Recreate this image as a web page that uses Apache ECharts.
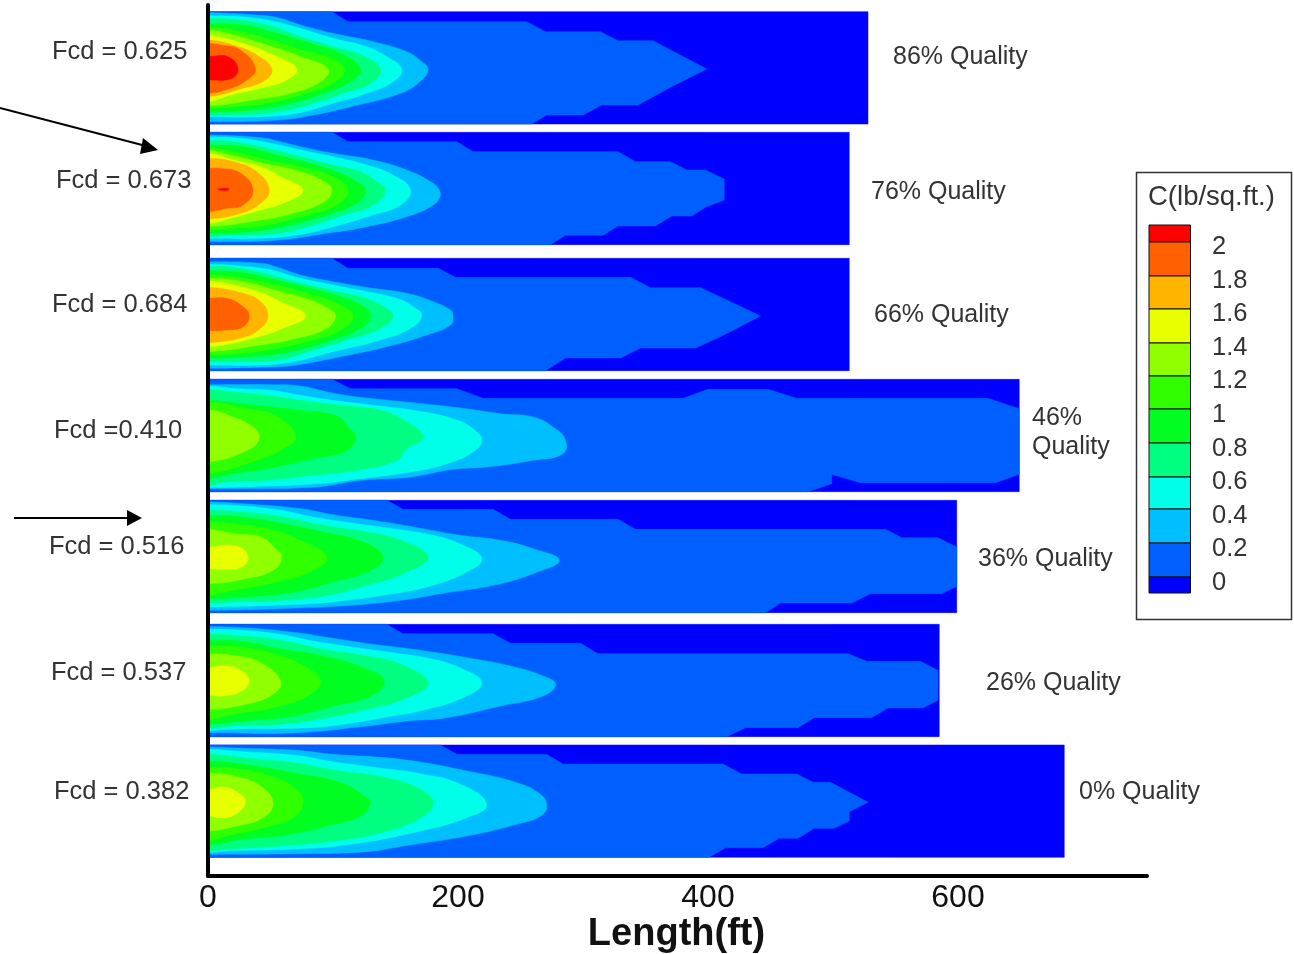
<!DOCTYPE html>
<html><head><meta charset="utf-8">
<style>html,body{margin:0;padding:0;background:#fff}#c{width:1294px;height:954px}</style>
<script src="https://cdn.jsdelivr.net/npm/echarts@6/dist/echarts.min.js"></script>
</head><body><div id="c"></div>
<script>
// Band colours, lowest to highest
const bandColors = ['#0000ff','#0060ff','#00bfff','#00ffe8','#00ff80','#00ff20','#30ff00','#90ff00','#e8ff00','#ffb400','#ff6000','#ff0000'];
const legendLabels = ['2','1.8','1.6','1.4','1.2','1','0.8','0.6','0.4','0.2','0'];
const xTicks = [0,200,400,600];
const fcdLabels = ['Fcd = 0.625','Fcd = 0.673','Fcd = 0.684','Fcd =0.410','Fcd = 0.516','Fcd = 0.537','Fcd = 0.382'];
const qualityLabels = ['86% Quality','76% Quality','66% Quality','46%\nQuality','36% Quality','26% Quality','0% Quality'];
// Fracture half-length (ft) of each panel, and panel position across the plot (y units)
const panelLengths = [528,513,513,649,599,585,685];
const panelOffsets = [20,382,760,1123,1486,1858,2220];
const panelHeight = 337;
// Contours: each is a list of [length ft, position across the panel], from lowest band up
const panel1 = [
 [[0,0],[99,0],[112,30],[255,30],[270,60],[314,60],[328,87],[356,87],[399,172],[372,223],[344,280],[315,280],[300,310],[271,310],[259,337],[0,337]],
 [[0,3],[42,11],[58,20],[74,40],[100,65],[132,90],[159,120],[171,150],[176,172],[171,205],[154,245],[114,285],[84,310],[56,325],[0,330]],
 [[0,13],[26,15],[50,27],[74,50],[100,80],[127,105],[143,135],[155,172],[148,210],[127,245],[100,275],[71,305],[42,315],[0,315]],
 [[0,21],[20,23],[47,40],[74,75],[100,105],[122,130],[138,172],[130,215],[108,245],[84,275],[55,300],[20,310],[0,310]],
 [[0,37],[28,40],[55,65],[82,95],[106,125],[122,172],[114,210],[92,245],[66,275],[34,295],[0,300]],
 [[0,47],[20,55],[47,80],[74,115],[95,135],[109,172],[100,215],[79,245],[47,275],[20,285],[0,290]],
 [[0,55],[20,70],[47,100],[74,135],[96,172],[90,210],[66,245],[36,265],[0,283]],
 [[0,70],[10,77],[36,105],[58,140],[71,172],[63,205],[42,230],[18,250],[0,270]],
 [[0,85],[20,100],[39,130],[51,172],[46,205],[28,230],[0,255]],
 [[0,95],[10,100],[26,115],[38,172],[31,205],[18,230],[0,245]],
 [[0,135],[16,135],[24,170],[19,200],[0,205]]
];
const panel2 = [
 [[0,0],[99,0],[112,28],[199,28],[212,58],[328,58],[342,88],[370,88],[383,113],[398,113],[413,140],[413,203],[398,225],[387,251],[371,251],[358,281],[328,281],[316,309],[286,309],[274,337],[0,337]],
 [[0,8],[42,16],[58,28],[74,43],[100,63],[132,83],[159,113],[178,148],[185,173],[185,198],[178,223],[159,253],[127,283],[95,303],[56,323],[0,328]],
 [[0,13],[26,18],[50,33],[74,53],[100,73],[127,98],[148,128],[162,173],[154,218],[132,248],[100,283],[71,308],[42,318],[0,318]],
 [[0,26],[20,28],[47,48],[74,73],[100,98],[122,118],[135,148],[142,173],[132,218],[108,248],[84,278],[55,303],[20,308],[0,313]],
 [[0,38],[28,43],[55,68],[82,93],[106,123],[119,148],[126,173],[119,213],[95,248],[66,278],[34,298],[0,303]],
 [[0,48],[20,58],[47,83],[74,103],[100,133],[112,173],[103,218],[79,248],[47,278],[20,288],[0,293]],
 [[0,53],[18,68],[47,95],[74,118],[93,148],[99,173],[93,208],[68,243],[42,263],[0,283]],
 [[0,63],[20,83],[42,103],[58,133],[76,173],[63,208],[42,233],[18,258],[0,273]],
 [[0,78],[20,88],[39,118],[49,173],[42,213],[26,243],[0,260]],
 [[0,108],[10,108],[26,123],[36,173],[28,218],[15,228],[0,238]],
 [[8,171],[13,168],[17,171],[13,175]]
];
const panel3 = [
 [[0,0],[99,0],[112,30],[184,30],[198,57],[338,57],[354,88],[394,88],[410,116],[442,173],[411,233],[390,269],[346,269],[330,299],[286,299],[270,337],[0,337]],
 [[0,10],[42,15],[58,30],[74,50],[100,70],[132,90],[159,105],[180,130],[194,155],[196,172],[194,200],[175,230],[143,265],[106,295],[71,320],[56,325],[0,330]],
 [[0,18],[26,23],[50,35],[74,60],[100,80],[127,100],[151,120],[164,145],[171,172],[162,210],[138,245],[100,280],[68,310],[42,320],[0,320]],
 [[0,25],[20,27],[47,47],[74,75],[100,97],[122,115],[138,140],[148,172],[138,210],[111,245],[84,275],[55,305],[20,310],[0,310]],
 [[0,37],[28,43],[55,65],[82,90],[106,115],[122,140],[130,172],[122,210],[95,250],[66,280],[34,295],[0,300]],
 [[0,50],[28,60],[55,80],[79,105],[103,135],[116,172],[106,215],[82,247],[47,275],[20,287],[0,290]],
 [[0,60],[28,70],[58,100],[82,125],[96,150],[102,172],[95,210],[71,240],[42,260],[0,280]],
 [[0,67],[26,85],[44,105],[58,130],[78,172],[60,210],[36,240],[12,260],[0,265]],
 [[0,87],[28,105],[42,130],[48,172],[42,210],[28,237],[0,253]],
 [[0,120],[15,120],[28,145],[33,172],[28,205],[15,215],[0,217]]
];
const panel4 = [
 [[0,0],[99,0],[114,28],[199,28],[220,57],[380,57],[400,30],[448,30],[471,57],[624,57],[649,88],[649,285],[630,310],[522,310],[499,285],[499,313],[480,337],[0,337]],
 [[0,16],[48,16],[74,20],[98,40],[127,56],[164,70],[202,86],[234,103],[260,113],[276,143],[286,183],[284,223],[260,243],[223,263],[196,270],[162,293],[122,303],[87,323],[24,328],[0,328]],
 [[0,20],[23,28],[50,33],[74,48],[100,63],[132,78],[164,93],[196,118],[212,148],[219,183],[212,218],[191,253],[162,278],[122,298],[87,313],[23,323],[0,325]],
 [[0,30],[20,38],[47,48],[74,63],[106,78],[138,93],[159,128],[172,173],[159,208],[151,243],[119,273],[84,288],[47,303],[15,308],[0,318]],
 [[0,63],[28,73],[74,93],[103,110],[112,143],[118,173],[111,213],[84,238],[47,268],[20,283],[0,298]],
 [[0,68],[30,88],[55,110],[70,173],[60,208],[39,243],[0,283]],
 [[0,91],[20,113],[36,143],[41,173],[34,208],[0,248]]
];
const panel5 = [
 [[0,0],[143,0],[156,27],[228,27],[242,57],[328,57],[342,87],[542,87],[555,112],[584,112],[599,140],[599,258],[587,280],[530,280],[515,308],[458,308],[446,337],[0,337]],
 [[0,5],[28,10],[74,25],[100,43],[132,60],[164,80],[202,105],[234,120],[260,145],[281,180],[260,220],[228,255],[186,280],[154,300],[114,315],[56,325],[0,330]],
 [[0,13],[28,17],[58,30],[84,50],[119,70],[148,85],[180,105],[204,135],[219,175],[207,215],[175,260],[140,285],[111,300],[82,310],[0,320]],
 [[0,30],[28,35],[60,50],[92,75],[127,95],[154,120],[176,170],[159,215],[127,255],[95,285],[58,300],[20,305],[0,310]],
 [[0,45],[28,50],[60,70],[92,95],[124,125],[140,170],[130,210],[100,245],[68,275],[28,290],[0,295]],
 [[0,65],[20,70],[47,85],[74,120],[95,170],[84,210],[55,245],[20,270],[0,285]],
 [[0,87],[20,100],[42,110],[54,145],[59,170],[52,210],[28,237],[0,250]],
 [[0,140],[23,137],[32,170],[27,200],[10,207],[0,205]]
];
const panel6 = [
 [[0,0],[143,0],[156,28],[228,28],[242,57],[298,57],[312,88],[512,88],[527,111],[570,111],[584,138],[584,228],[572,251],[544,251],[531,280],[485,280],[472,310],[430,310],[415,337],[0,337]],
 [[0,7],[28,10],[71,25],[100,42],[132,60],[164,75],[207,100],[242,125],[268,155],[278,180],[268,215],[234,245],[191,280],[159,290],[127,305],[71,325],[0,325]],
 [[0,15],[28,18],[58,30],[84,50],[119,70],[148,85],[180,105],[204,135],[219,175],[207,215],[175,255],[140,280],[108,300],[82,310],[15,315],[0,320]],
 [[0,30],[28,35],[60,50],[92,75],[127,95],[154,120],[176,175],[159,220],[127,255],[95,280],[58,300],[20,305],[0,312]],
 [[0,48],[28,52],[60,75],[92,95],[124,130],[141,170],[130,215],[100,245],[68,275],[28,290],[0,300]],
 [[0,65],[28,70],[58,95],[79,130],[90,170],[82,210],[58,245],[20,270],[0,285]],
 [[0,88],[23,95],[42,115],[58,170],[52,210],[28,242],[0,255]],
 [[0,130],[15,125],[27,140],[33,170],[27,200],[12,215],[0,212]]
];
const panel7 = [
 [[0,0],[186,0],[199,28],[271,28],[284,57],[412,57],[427,87],[471,87],[484,112],[498,112],[528,172],[513,200],[513,228],[501,250],[485,250],[472,280],[457,280],[444,308],[414,308],[401,337],[0,337]],
 [[0,6],[28,10],[71,16],[100,28],[154,43],[207,78],[247,113],[266,148],[271,183],[266,213],[247,238],[207,273],[156,303],[127,320],[71,326],[0,328]],
 [[0,13],[28,20],[68,30],[100,50],[135,68],[170,86],[202,118],[223,178],[207,218],[164,263],[114,298],[71,312],[15,318],[0,323]],
 [[0,28],[28,38],[68,53],[106,78],[143,98],[170,133],[180,173],[170,218],[138,263],[100,288],[58,303],[15,313],[0,318]],
 [[0,48],[28,58],[68,83],[106,113],[127,158],[130,173],[122,213],[100,238],[66,268],[28,283],[0,300]],
 [[0,66],[20,70],[50,93],[71,133],[76,173],[68,218],[44,248],[15,273],[0,288]],
 [[0,83],[26,98],[42,123],[52,173],[44,218],[23,243],[0,258]],
 [[0,133],[12,126],[24,143],[30,168],[24,203],[12,218],[0,213]]
];
const panels = [panel1,panel2,panel3,panel4,panel5,panel6,panel7];

// --- layout of page furniture ---
const FONT = '"Liberation Sans", Arial, sans-serif';
const fcdPos = [[52,51],[56,180],[52,304],[54,430],[49,546],[51,672],[54,791]];
const qualPos = [[893,56],[871,191],[874,314],[1032,432],[978,558],[986,682],[1079,791]];
const barEdges = [225,242,276,309,343,376,409,443,477,509,543,577,593];

const items = [];
panels.forEach((p,i)=>{
  items.push({value:[i,-1]});
  p.forEach((c,j)=>items.push({value:[i,j]}));
});
function renderItem(params, api){
  const i = api.value(0), j = api.value(1);
  const off = panelOffsets[i];
  const outline = j < 0
    ? [[0,0],[panelLengths[i],0],[panelLengths[i],panelHeight],[0,panelHeight]]
    : panels[i][j];
  const toPx = p => api.coord([p[0], off + p[1]]);
  const el = { type:'polygon', style:{fill: bandColors[j+1], stroke: bandColors[j+1], lineWidth: 0.5} };
  if (j >= 1) {
    // Contour bands are rounded. A lead-in past the well line keeps the curve from
    // pinching where it meets the left edge; that part is clipped away.
    let pts = outline;
    if (outline[0][0] === 0) {
      const a = outline[0], b = outline[outline.length-1];
      pts = [[-40,a[1]], ...outline, [-40,b[1]]];
    }
    const lo = toPx([0,0]), hi = toPx([panelLengths[i],panelHeight]);
    el.shape = {points: pts.map(toPx), smooth: 0.45};
    el.clipPath = {type:'rect', shape:{x:lo[0], y:lo[1], width:hi[0]-lo[0], height:hi[1]-lo[1]}};
  } else {
    el.shape = {points: outline.map(toPx)};
  }
  return el;
}
const graphics = [];
const txt = (x,y,s,extra)=>graphics.push({type:'text',left:x,top:y,silent:true,
  style:Object.assign({text:s,font:'25.5px '+FONT,fill:'#333'},extra||{})});
fcdLabels.forEach((s,i)=>txt(fcdPos[i][0],fcdPos[i][1]-12,s));
qualityLabels.forEach((s,i)=>txt(qualPos[i][0],qualPos[i][1]-(s.includes('\n')?28:13),s,{lineHeight:29,font:'25px '+FONT}));
// legend box
graphics.push({type:'rect',shape:{x:1136.5,y:172.5,width:155,height:447},style:{fill:'#fff',stroke:'#333',lineWidth:1.5},silent:true});
txt(1148,183,'C(lb/sq.ft.)',{font:'27.5px '+FONT});
bandColors.slice().reverse().forEach((c,k)=>{
  graphics.push({type:'rect',shape:{x:1149,y:barEdges[k],width:41.5,height:barEdges[k+1]-barEdges[k]},
    style:{fill:c,stroke:'#111',lineWidth:1},silent:true});
});
legendLabels.forEach((s,k)=>txt(1212,234+k*33.6,s));
// arrows
graphics.push({type:'polyline',shape:{points:[[0,108],[146,146]]},style:{stroke:'#000',lineWidth:2,fill:null},silent:true});
graphics.push({type:'polygon',shape:{points:[[158,150],[143,138],[140,154]]},style:{fill:'#000'},silent:true});
graphics.push({type:'polyline',shape:{points:[[14,518],[130,518]]},style:{stroke:'#000',lineWidth:2,fill:null},silent:true});
graphics.push({type:'polygon',shape:{points:[[142,518],[127,510],[127,526]]},style:{fill:'#000'},silent:true});

const chart = echarts.init(document.getElementById('c'),null,{renderer:'canvas'});
chart.setOption({
  animation:false,
  backgroundColor:'#fff',
  grid:{left:208,top:5,width:939,height:871,outerBoundsMode:'none'},
  xAxis:{type:'value',min:0,max:751.2,interval:200,position:'bottom',z:5,
    axisLine:{show:true,onZero:false,lineStyle:{color:'#000',width:4}},
    axisTick:{show:false},splitLine:{show:false},
    axisLabel:{color:'#111',fontFamily:FONT,fontSize:32,margin:6,showMaxLabel:false,
      formatter:v=>xTicks.includes(v)?String(v):''},
    name:'Length(ft)',nameLocation:'middle',nameGap:40,nameMoveOverlap:false,
    nameTextStyle:{color:'#111',fontFamily:FONT,fontSize:38,fontWeight:'bold',align:'center',padding:[0,0,0,-2]}
  },
  yAxis:{type:'value',min:0,max:2613,inverse:true,z:5,
    axisLine:{show:true,onZero:false,lineStyle:{color:'#000',width:4}},
    axisTick:{show:false},axisLabel:{show:false},splitLine:{show:false}},
  graphic:{elements:graphics},
  series:[{type:'custom',renderItem,data:items,clip:false,z:1,silent:true,coordinateSystem:'cartesian2d'}]
});
</script></body></html>
